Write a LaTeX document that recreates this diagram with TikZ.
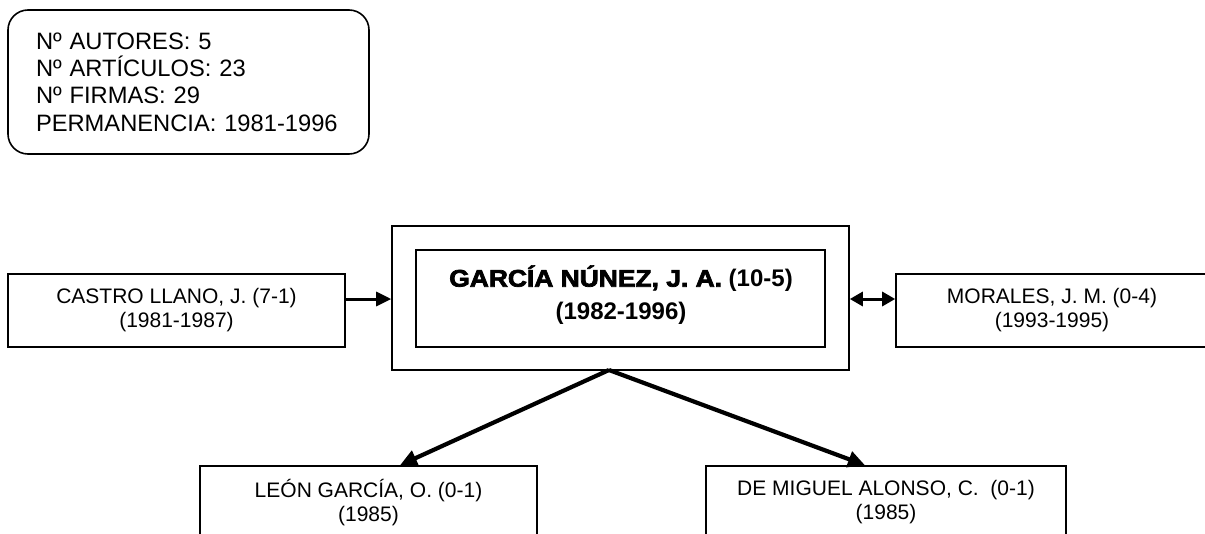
\documentclass[tikz,border=0pt]{standalone}
\usepackage{fontspec}
\setmainfont{Liberation Sans}
\newfontfamily\heavyfont{Liberation Sans}[BoldFeatures={FakeBold=3,FakeStretch=1.1}]
\usetikzlibrary{arrows.meta}
\begin{document}
\begin{tikzpicture}[x=1pt,y=-1pt,
  box/.style={draw, line width=1.6pt, inner sep=0pt, align=center,
    font=\fontsize{21}{24}\selectfont},
  conn/.style={line width=3pt, -{Triangle[length=15pt,width=14pt]}},
  diag/.style={line width=4.2pt, -{Triangle[length=17pt,width=16pt]}}]
\useasboundingbox (0,0) rectangle (1205,533);
\clip (0,0) rectangle (1205,533);
% stats box
\node[draw, line width=1.6pt, rounded corners=20pt, inner xsep=28pt, inner ysep=0pt,
  text width=305pt, minimum height=144pt, align=left,
  font=\fontsize{23.7}{27.3}\selectfont] (stats) at (188.5,82)
  {Nº AUTORES: 5\\Nº ARTÍCULOS: 23\\Nº FIRMAS: 29\\PERMANENCIA: 1981-1996};
% main double box
\node[draw, line width=1.6pt, minimum width=457pt, minimum height=144pt, inner sep=0pt] (outer) at (620.5,298) {};
\node[draw, line width=1.6pt, minimum width=409pt, minimum height=97pt, inner sep=0pt] (inner) at (620.5,298.5) {};
\node[inner sep=0pt, align=center, font=\fontsize{24}{33}\selectfont\bfseries] (maintext) at (621,295)
  {{\heavyfont\bfseries GARCÍA NÚNEZ, J. A.} (10-5)\\(1982-1996)};
% side boxes
\node[box, minimum width=337pt, minimum height=73pt] (castro) at (176.5,310.5)
  {CASTRO LLANO, J. (7-1)\\(1981-1987)};
\node[box, minimum width=312pt, minimum height=73pt] (morales) at (1052,310.5)
  {MORALES, J. M. (0-4)\\(1993-1995)};
\node[box, minimum width=337pt, minimum height=73pt] (leon) at (368.5,502.5)
  {LEÓN GARCÍA, O. (0-1)\\(1985)};
\node[box, minimum width=360pt, minimum height=73pt] (demiguel) at (886,502.5)
  {DE MIGUEL ALONSO, C.\ \ (0-1)\\(1985)};
% connectors
\coordinate (apex) at (609,370);
\draw[conn] (castro.east |- 0,299) -- (outer.west |- 0,299);
\draw[line width=3pt, {Triangle[length=13pt,width=14pt]}-{Triangle[length=13pt,width=14pt]}]
  (outer.east |- 0,299) -- (morales.west |- 0,299);
\draw[diag] (apex) -- ([xshift=31.5pt]leon.north);
\draw[diag] (apex) -- ([xshift=-21pt]demiguel.north);
\end{tikzpicture}
\end{document}
